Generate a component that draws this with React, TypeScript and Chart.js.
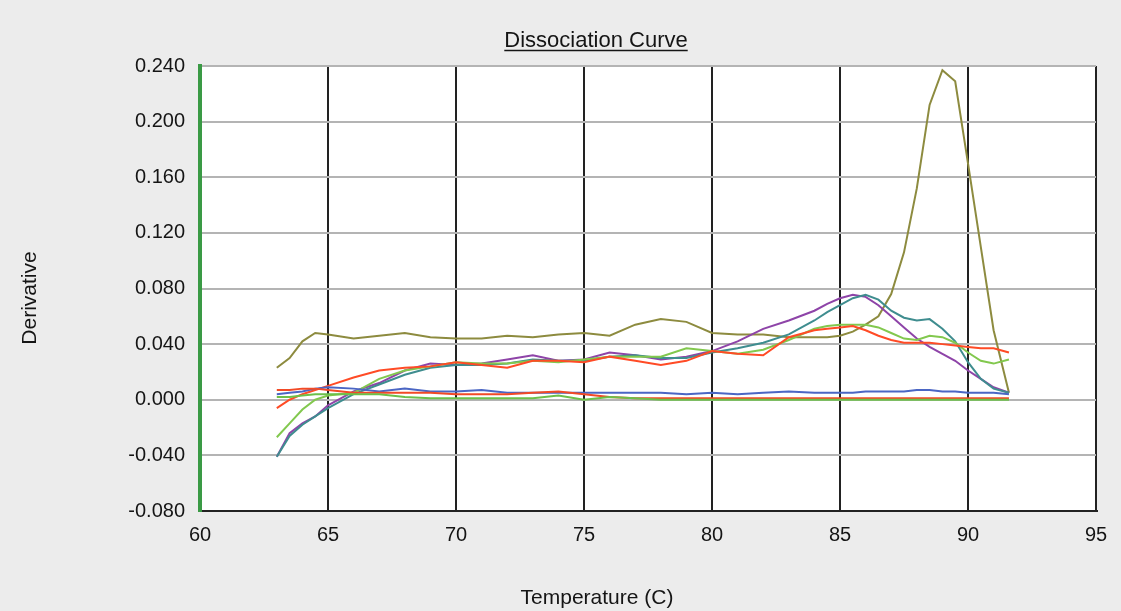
import React, { useEffect, useRef } from "react";
import { Chart, registerables } from "chart.js";

Chart.register(...registerables);

const temps = [
  63, 63.5, 64, 64.5, 65, 66, 67, 68, 69, 70, 71, 72, 73, 74, 75, 76, 77, 78, 79, 80,
  81, 82, 83, 84, 84.5, 85, 85.5, 86, 86.5, 87, 87.5, 88, 88.5, 89, 89.5, 90, 90.5, 91, 91.6,
];

const olive = [
  0.023, 0.03, 0.042, 0.048, 0.047, 0.044, 0.046, 0.048, 0.045, 0.044, 0.044, 0.046, 0.045, 0.047, 0.048, 0.046, 0.054, 0.058, 0.056, 0.048,
  0.047, 0.047, 0.045, 0.045, 0.045, 0.046, 0.049, 0.054, 0.06, 0.076, 0.106, 0.152, 0.212, 0.237, 0.229, 0.17, 0.11, 0.05, 0.005,
];

const purple = [
  -0.041, -0.024, -0.017, -0.012, -0.004, 0.006, 0.012, 0.021, 0.026, 0.025, 0.026, 0.029, 0.032, 0.028, 0.029, 0.034, 0.032, 0.029, 0.031, 0.035,
  0.042, 0.051, 0.057, 0.064, 0.069, 0.073, 0.0755, 0.074, 0.068, 0.06, 0.052, 0.044, 0.038, 0.033, 0.028, 0.021, 0.015, 0.009, 0.005,
];

const teal = [
  -0.041, -0.026, -0.018, -0.012, -0.006, 0.004, 0.011, 0.018, 0.023, 0.025, 0.025, 0.026, 0.029, 0.028, 0.028, 0.031, 0.032, 0.03, 0.03, 0.034,
  0.037, 0.041, 0.047, 0.057, 0.063, 0.068, 0.073, 0.0755, 0.072, 0.064, 0.059, 0.057, 0.058, 0.051, 0.042, 0.027, 0.015, 0.008, 0.005,
];

const lightGreen = [
  -0.027, -0.017, -0.007, 0.0, 0.003, 0.005, 0.015, 0.021, 0.024, 0.027, 0.026, 0.026, 0.028, 0.027, 0.029, 0.031, 0.031, 0.031, 0.037, 0.035,
  0.033, 0.036, 0.043, 0.051, 0.053, 0.054, 0.054, 0.054, 0.052, 0.048, 0.044, 0.043, 0.046, 0.045, 0.041, 0.034, 0.028, 0.026, 0.029,
];

const red = [
  -0.006, 0.0, 0.004, 0.007, 0.01, 0.016, 0.021, 0.023, 0.024, 0.027, 0.025, 0.023, 0.028, 0.028, 0.027, 0.031, 0.028, 0.025, 0.028, 0.035,
  0.033, 0.032, 0.045, 0.05, 0.051, 0.052, 0.053, 0.05, 0.046, 0.043, 0.041, 0.041, 0.041, 0.04, 0.039, 0.038, 0.037, 0.037, 0.034,
];

const blueFlat = [
  0.004, 0.005, 0.006, 0.008, 0.009, 0.008, 0.006, 0.008, 0.006, 0.006, 0.007, 0.005, 0.005, 0.005, 0.005, 0.005, 0.005, 0.005, 0.004, 0.005,
  0.004, 0.005, 0.006, 0.005, 0.005, 0.005, 0.005, 0.006, 0.006, 0.006, 0.006, 0.007, 0.007, 0.006, 0.006, 0.005, 0.005, 0.005, 0.004,
];

const redFlat = [
  0.007, 0.007, 0.008, 0.008, 0.007, 0.005, 0.005, 0.005, 0.005, 0.004, 0.004, 0.004, 0.005, 0.006, 0.004, 0.002, 0.001, 0.001, 0.001, 0.001,
  0.001, 0.001, 0.001, 0.001, 0.001, 0.001, 0.001, 0.001, 0.001, 0.001, 0.001, 0.001, 0.001, 0.001, 0.001, 0.001, 0.001, 0.001, 0.001,
];

const greenFlat = [
  0.002, 0.002, 0.003, 0.004, 0.004, 0.004, 0.004, 0.002, 0.001, 0.001, 0.001, 0.001, 0.001, 0.003, 0.0, 0.002, 0.001, 0.0, 0.0, 0.0,
  0.0, 0.0, 0.0, 0.0, 0.0, 0.0, 0.0, 0.0, 0.0, 0.0, 0.0, 0.0, 0.0, 0.0, 0.0, 0.0, 0.0, 0.0, 0.0,
];

const seriesList = [
  { name: "Sample 8", values: greenFlat, color: "#6cc04a" },
  { name: "Sample 7", values: redFlat, color: "#f24a26" },
  { name: "Sample 6", values: blueFlat, color: "#4b66c4" },
  { name: "Sample 5", values: red, color: "#ff4b26" },
  { name: "Sample 4", values: lightGreen, color: "#82c84e" },
  { name: "Sample 3", values: teal, color: "#3f8d8f" },
  { name: "Sample 2", values: purple, color: "#8e44a8" },
  { name: "Sample 1", values: olive, color: "#8d8b3f" },
];

const xTicks = [60, 65, 70, 75, 80, 85, 90, 95];
const yTicks = [-0.08, -0.04, 0, 0.04, 0.08, 0.12, 0.16, 0.2, 0.24];

const chartTitle = "Dissociation Curve";
const xTitle = "Temperature (C)";
const yTitle = "Derivative";

const FONT = "'Liberation Sans', Arial, sans-serif";
const TEXT = "#151515";

const decorPlugin = {
  id: "decor",
  beforeDraw(chart: any) {
    const { ctx, chartArea } = chart;
    ctx.save();
    ctx.fillStyle = "#ececec";
    ctx.fillRect(0, 0, chart.width, chart.height);
    ctx.fillStyle = "#ffffff";
    ctx.fillRect(chartArea.left, chartArea.top, chartArea.right - chartArea.left, chartArea.bottom - chartArea.top);
    ctx.restore();
  },
  afterDraw(chart: any) {
    const { ctx } = chart;
    ctx.save();
    ctx.fillStyle = TEXT;
    ctx.strokeStyle = TEXT;
    ctx.font = `22px ${FONT}`;
    ctx.textAlign = "center";
    ctx.textBaseline = "alphabetic";
    const tx = 596;
    const ty = 47;
    ctx.fillText(chartTitle, tx, ty);
    const w = ctx.measureText(chartTitle).width;
    ctx.lineWidth = 1.5;
    ctx.beginPath();
    ctx.moveTo(tx - w / 2, ty + 3.5);
    ctx.lineTo(tx + w / 2, ty + 3.5);
    ctx.stroke();
    ctx.font = `21px ${FONT}`;
    ctx.textBaseline = "middle";
    ctx.fillText(xTitle, 597, 598);
    ctx.translate(30, 298);
    ctx.rotate(-Math.PI / 2);
    ctx.fillText(yTitle, 0, 0);
    ctx.restore();
  },
};

export default function App() {
  const canvasRef = useRef<HTMLCanvasElement | null>(null);

  useEffect(() => {
    if (!canvasRef.current) return;
    const datasets = seriesList.map((s) => ({
      label: s.name,
      data: temps.map((t, i) => ({ x: t, y: s.values[i] })),
      borderColor: s.color,
      backgroundColor: s.color,
      borderWidth: 2,
      pointRadius: 0,
      tension: 0,
      fill: false,
    }));

    const chart = new Chart(canvasRef.current, {
      type: "line",
      data: { datasets },
      plugins: [decorPlugin],
      options: {
        responsive: false,
        animation: false,
        devicePixelRatio: 1,
        layout: { padding: { top: 66, right: 25, left: 0, bottom: 0 } },
        plugins: {
          legend: { display: false },
          title: { display: false },
          tooltip: { enabled: false },
        },
        scales: {
          x: {
            type: "linear",
            min: 60,
            max: 95,
            afterFit(scale: any) {
              scale.height = 100;
            },
            afterBuildTicks(scale: any) {
              scale.ticks = xTicks.map((v) => ({ value: v }));
            },
            ticks: {
              padding: 12,
              color: TEXT,
              font: { family: FONT, size: 20 },
              maxRotation: 0,
              callback: (v: any) => String(v),
            },
            grid: {
              drawTicks: false,
              color: (c: any) => (c.tick && c.tick.value === 60 ? "#3a9a45" : "#222222"),
              lineWidth: (c: any) => (c.tick && c.tick.value === 60 ? 4 : 2),
            },
            border: { display: true, color: "#222222", width: 2 },
          },
          y: {
            type: "linear",
            min: -0.08,
            max: 0.24,
            afterFit(scale: any) {
              scale.width = 200;
            },
            afterBuildTicks(scale: any) {
              scale.ticks = yTicks.map((v) => ({ value: v }));
            },
            ticks: {
              padding: 15,
              color: TEXT,
              font: { family: FONT, size: 20 },
              callback: (v: any) => Number(v).toFixed(3),
            },
            grid: {
              drawTicks: false,
              color: (c: any) => (c.tick && Math.abs(c.tick.value + 0.08) < 1e-9 ? "#222222" : "#b4b4b4"),
              lineWidth: 2,
            },
            border: { display: true, color: "#3a9a45", width: 4 },
          },
        },
      },
    });
    return () => chart.destroy();
  }, []);

  return (
    <div style={{ position: "fixed", left: 0, top: 0, width: 1121, height: 611, background: "#ececec" }}>
      <canvas ref={canvasRef} width={1121} height={611} style={{ display: "block", width: 1121, height: 611 }} />
    </div>
  );
}
